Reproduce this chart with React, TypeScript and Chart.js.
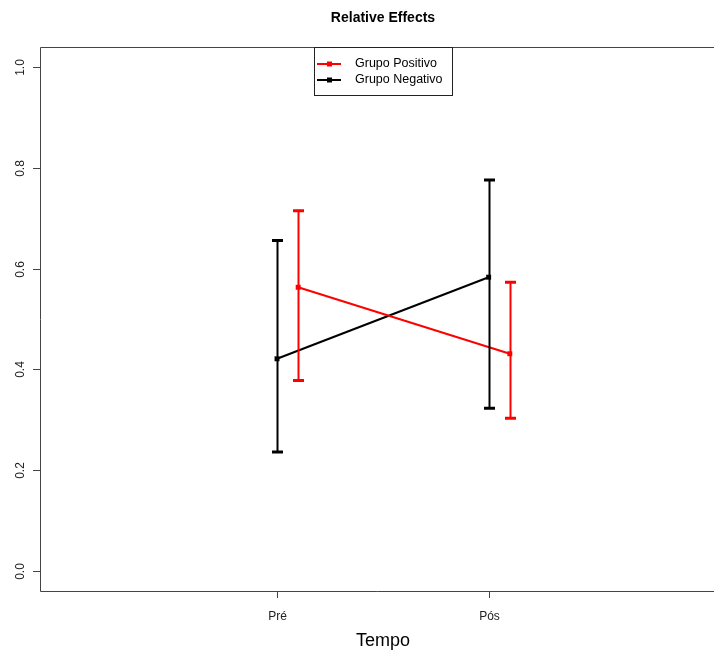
import React, { useEffect, useRef } from "react";
import { Chart, registerables } from "chart.js";

Chart.register(...registerables);

const categories = ["Pré", "Pós"];
const categoryX = [1, 2];
const positivoOffset = 0.1;
const positivoValues = [0.563, 0.431];
const positivoLower = [0.378, 0.303];
const positivoUpper = [0.715, 0.573];
const negativoValues = [0.421, 0.583];
const negativoLower = [0.236, 0.323];
const negativoUpper = [0.656, 0.776];
const yTicks = [0, 0.2, 0.4, 0.6, 0.8, 1.0];
const yTickLabels = ["0.0", "0.2", "0.4", "0.6", "0.8", "1.0"];
const seriesNames = ["Grupo Positivo", "Grupo Negativo"];
const seriesColors = ["#ff0000", "#000000"];
const titleText = "Relative Effects";
const xAxisTitle = "Tempo";

const FONT = '"Liberation Sans", Arial, sans-serif';

export default function App() {
  const ref = useRef<HTMLCanvasElement | null>(null);

  useEffect(() => {
    const canvas = ref.current;
    if (!canvas) return;

    const posData = categoryX.map((x, i) => ({ x: x + positivoOffset, y: positivoValues[i] }));
    const negData = categoryX.map((x, i) => ({ x, y: negativoValues[i] }));
    const errorSets = [
      { xs: categoryX.map((x) => x + positivoOffset), lo: positivoLower, hi: positivoUpper, color: seriesColors[0] },
      { xs: categoryX, lo: negativoLower, hi: negativoUpper, color: seriesColors[1] },
    ];

    const decor = {
      id: "decor",
      afterDatasetsDraw(chart: any) {
        const ctx = chart.ctx as CanvasRenderingContext2D;
        const xs = chart.scales.x;
        const ys = chart.scales.y;
        ctx.save();
        errorSets.forEach((s) => {
          ctx.strokeStyle = s.color;
          s.xs.forEach((xv: number, i: number) => {
            const px = Math.round(xs.getPixelForValue(xv)) + 0.5;
            const pLo = ys.getPixelForValue(s.lo[i]);
            const pHi = ys.getPixelForValue(s.hi[i]);
            ctx.lineWidth = 2;
            ctx.beginPath();
            ctx.moveTo(px, pLo);
            ctx.lineTo(px, pHi);
            ctx.stroke();
            ctx.lineWidth = 3;
            ctx.beginPath();
            ctx.moveTo(px - 5.5, pLo);
            ctx.lineTo(px + 5.5, pLo);
            ctx.moveTo(px - 5.5, pHi);
            ctx.lineTo(px + 5.5, pHi);
            ctx.stroke();
          });
        });
        ctx.restore();
      },
      afterDraw(chart: any) {
        const ctx = chart.ctx as CanvasRenderingContext2D;
        const xs = chart.scales.x;
        const ys = chart.scales.y;
        const area = chart.chartArea;
        ctx.save();
        ctx.strokeStyle = "#444";
        ctx.lineWidth = 1;
        ctx.beginPath();
        ctx.moveTo(chart.width, Math.round(area.top) + 0.5);
        ctx.lineTo(Math.round(area.left) + 0.5, Math.round(area.top) + 0.5);
        ctx.lineTo(Math.round(area.left) + 0.5, Math.round(area.bottom) + 0.5);
        ctx.lineTo(chart.width, Math.round(area.bottom) + 0.5);
        ctx.stroke();
        ctx.fillStyle = "#222";
        ctx.font = `12px ${FONT}`;
        yTicks.forEach((v, i) => {
          const py = Math.round(ys.getPixelForValue(v)) + 0.5;
          ctx.beginPath();
          ctx.moveTo(area.left - 7, py);
          ctx.lineTo(area.left, py);
          ctx.stroke();
          ctx.save();
          ctx.translate(24, py);
          ctx.rotate(-Math.PI / 2);
          ctx.textAlign = "center";
          ctx.textBaseline = "alphabetic";
          ctx.fillText(yTickLabels[i], 0, 0);
          ctx.restore();
        });
        categoryX.forEach((v, i) => {
          const px = Math.round(xs.getPixelForValue(v)) + 0.5;
          ctx.beginPath();
          ctx.moveTo(px, area.bottom);
          ctx.lineTo(px, area.bottom + 7);
          ctx.stroke();
          ctx.textAlign = "center";
          ctx.textBaseline = "alphabetic";
          ctx.fillText(categories[i], px, 620);
        });
        const cx = 383;
        ctx.fillStyle = "#000";
        ctx.font = `18px ${FONT}`;
        ctx.textAlign = "center";
        ctx.fillText(xAxisTitle, cx, 646);
        ctx.font = `bold 14px ${FONT}`;
        ctx.fillText(titleText, cx, 22);
        const lx0 = 314.5, lx1 = 452.5, ly0 = 47.5, ly1 = 95.5;
        ctx.fillStyle = "#fff";
        ctx.fillRect(lx0, ly0, lx1 - lx0, ly1 - ly0);
        ctx.strokeStyle = "#222";
        ctx.lineWidth = 1;
        ctx.strokeRect(lx0, ly0, lx1 - lx0, ly1 - ly0);
        ctx.font = `12.5px ${FONT}`;
        ctx.textAlign = "left";
        ctx.textBaseline = "middle";
        seriesNames.forEach((name, i) => {
          const y = 64 + i * 16;
          ctx.strokeStyle = seriesColors[i];
          ctx.fillStyle = seriesColors[i];
          ctx.lineWidth = 2;
          ctx.beginPath();
          ctx.moveTo(317, y);
          ctx.lineTo(341, y);
          ctx.stroke();
          ctx.fillRect(327, y - 2.5, 5, 5);
          ctx.fillStyle = "#000";
          ctx.fillText(name, 355, y);
        });
        ctx.restore();
      },
    };

    const chart = new Chart(canvas, {
      type: "line",
      data: {
        datasets: [
          {
            label: seriesNames[0],
            data: posData,
            borderColor: seriesColors[0],
            backgroundColor: seriesColors[0],
            borderWidth: 2,
            pointStyle: "rect",
            pointRadius: 3.5,
            pointBorderWidth: 0,
          },
          {
            label: seriesNames[1],
            data: negData,
            borderColor: seriesColors[1],
            backgroundColor: seriesColors[1],
            borderWidth: 2,
            pointStyle: "rect",
            pointRadius: 3.5,
            pointBorderWidth: 0,
          },
        ],
      },
      options: {
        responsive: false,
        animation: false,
        layout: { padding: { left: 40, top: 47, right: 0, bottom: 64 } },
        plugins: { legend: { display: false }, title: { display: false }, tooltip: { enabled: false } },
        scales: {
          x: { type: "linear", min: -0.12, max: 3.046, display: false },
          y: { type: "linear", min: -0.04, max: 1.04, display: false },
        },
      },
      plugins: [decor],
    });
    return () => chart.destroy();
  }, []);

  return (
    <div style={{ position: "absolute", left: 0, top: 0, width: 714, height: 655, background: "#fff" }}>
      <canvas ref={ref} width={714} height={655} />
    </div>
  );
}
